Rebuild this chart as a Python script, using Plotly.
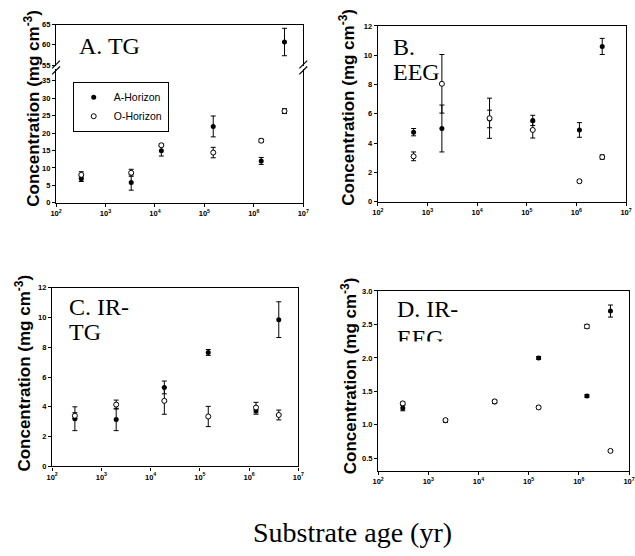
import plotly.graph_objects as go

W, H = 635, 556

# ---------------- data (ages in years, concentrations in mg cm-3) ----------------
age_A = [324, 3311, 13490, 151000, 1410000, 4170000]
tg_A_hor = [6.9, 5.8, 14.9, 21.9, 12.0, 60.7]
tg_A_err = [0.8, 2.2, 1.5, 3.0, 1.0, 3.4]
tg_O_hor = [8.0, 8.6, 16.5, 14.4, 17.8, 26.3]
tg_O_err = [0.9, 1.0, 0.4, 1.5, 0.5, 0.7]

age_B = [525, 1950, 17800, 132000, 1150000, 3310000]
eeg_A_hor = [4.75, 5.0, 5.65, 5.55, 4.9, 10.6]
eeg_A_err = [0.25, 1.6, 0.6, 0.35, 0.5, 0.55]
eeg_O_hor = [3.1, 8.05, 5.7, 4.9, 1.4, 3.05]
eeg_O_err = [0.3, 2.0, 1.37, 0.55, 0.1, 0.15]

age_C = [290, 2000, 19000, 148000, 1380000, 4000000]
irtg_A_hor = [3.2, 3.15, 5.3, 7.65, 3.75, 9.85]
irtg_A_err = [0.8, 0.75, 0.43, 0.2, 0.25, 1.2]
irtg_O_hor = [3.4, 4.15, 4.4, 3.35, 3.95, 3.45]
irtg_O_err = [0.2, 0.3, 0.9, 0.68, 0.35, 0.33]

age_D = [310, 2200, 21000, 158000, 1450000, 4270000]
ireeg_A_hor = [1.25, 1.06, 1.34, 2.0, 1.43, 2.7]
ireeg_A_err = [0.04, 0.02, 0.02, 0.02, 0.02, 0.09]
ireeg_O_hor = [1.32, 1.07, 1.35, 1.26, 2.47, 0.61]
ireeg_O_err = [0.02, 0.02, 0.02, 0.02, 0.03, 0.01]

x_tickvals = [100, 1000, 10000, 100000, 1000000, 10000000]
x_ticktext = ["10<sup>2</sup>", "10<sup>3</sup>", "10<sup>4</sup>", "10<sup>5</sup>",
              "10<sup>6</sup>", "10<sup>7</sup>"]

series_names = ["A-Horizon", "O-Horizon"]
panel_labels = [["A. TG"], ["B.", "EEG"], ["C. IR-", "TG"], ["D. IR-", "EEG"]]
y_title = "<b>Concentration (mg cm<sup>-3</sup>)</b>"
x_title = "Substrate age (yr)"

# ---------------- helpers ----------------
def xp(px):
    return px / W


def yp(py):
    return 1 - py / H


SANS = "Liberation Sans, Arial"
SERIF = "Liberation Serif, Times New Roman"

fig = go.Figure()


def add_pair(ages, a_vals, a_err, o_vals, o_err, xa, ya, legend=False):
    fig.add_trace(go.Scatter(
        x=ages, y=a_vals, mode="markers", name=series_names[0],
        marker=dict(symbol="circle", size=5, color="black"),
        error_y=dict(type="data", array=a_err, color="black", thickness=1, width=2.5),
        xaxis=xa, yaxis=ya, showlegend=legend))
    fig.add_trace(go.Scatter(
        x=ages, y=o_vals, mode="markers", name=series_names[1],
        marker=dict(symbol="circle", size=5, color="white", line=dict(color="black", width=1)),
        error_y=dict(type="data", array=o_err, color="black", thickness=1, width=2.5),
        xaxis=xa, yaxis=ya, showlegend=legend))


# Panel A: upper (break) and lower parts
add_pair(age_A, tg_A_hor, tg_A_err, tg_O_hor, tg_O_err, "x", "y")
add_pair(age_A, tg_A_hor, tg_A_err, tg_O_hor, tg_O_err, "x2", "y2", legend=True)
add_pair(age_B, eeg_A_hor, eeg_A_err, eeg_O_hor, eeg_O_err, "x3", "y3")
add_pair(age_C, irtg_A_hor, irtg_A_err, irtg_O_hor, irtg_O_err, "x4", "y4")
add_pair(age_D, ireeg_A_hor, ireeg_A_err, ireeg_O_hor, ireeg_O_err, "x5", "y5")

tickfont = dict(family=SANS, size=7.5, color="black", weight="bold")

def xaxis_cfg(dom, anchor, show_labels=True, side="bottom", mirror=True, ticks="outside"):
    return dict(type="log", range=[2, 7], domain=dom, anchor=anchor,
                tickvals=x_tickvals, ticktext=x_ticktext, showticklabels=show_labels,
                ticks=ticks, ticklen=3, tickwidth=1, tickcolor="black",
                showline=True, linecolor="black", linewidth=1.3, mirror=mirror, side=side,
                showgrid=False, zeroline=False, tickfont=tickfont)


def yaxis_cfg(dom, anchor, rng, tickvals=None, dtick=None, fmt=None):
    d = dict(range=rng, domain=dom, anchor=anchor,
             ticks="outside", ticklen=3, tickwidth=1, tickcolor="black",
             showline=True, linecolor="black", linewidth=1.3, mirror=True,
             showgrid=False, zeroline=False, tickfont=tickfont)
    if tickvals is not None:
        d["tickvals"] = tickvals
    if dtick is not None:
        d["dtick"] = dtick
        d["tick0"] = 0
    if fmt:
        d["tickformat"] = fmt
    return d


domA_x = [xp(51), xp(303)]
domB_x = [xp(379), xp(632)]
domC_x = [xp(47), xp(298)]
domD_x = [xp(379.3), 1.0]

fig.update_layout(
    width=W, height=H, margin=dict(l=0, r=0, t=0, b=0),
    paper_bgcolor="white", plot_bgcolor="white",
    xaxis=xaxis_cfg(domA_x, "y", show_labels=False, side="top", mirror=False, ticks=""),
    yaxis=yaxis_cfg([yp(63), yp(21)], "x", [54.76, 65], tickvals=[55, 60, 65]),
    xaxis2=xaxis_cfg(domA_x, "y2", mirror=False),
    yaxis2=yaxis_cfg([yp(202), yp(66)], "x2", [0, 38.4], tickvals=[0, 5, 10, 15, 20, 25, 30, 35]),
    xaxis3=xaxis_cfg(domB_x, "y3"),
    yaxis3=yaxis_cfg([yp(201), yp(22.3)], "x3", [0, 12], dtick=2),
    xaxis4=xaxis_cfg(domC_x, "y4"),
    yaxis4=yaxis_cfg([yp(470), yp(288.3)], "x4", [0, 12], dtick=2),
    xaxis5=xaxis_cfg(domD_x, "y5"),
    yaxis5=yaxis_cfg([yp(475), yp(291.7)], "x5", [0.305, 3.0], tickvals=[0.5, 1.0, 1.5, 2.0, 2.5, 3.0], fmt=".1f"),
    legend=dict(x=xp(68), y=yp(79), xanchor="left", yanchor="top",
                bordercolor="black", borderwidth=1, bgcolor="white",
                font=dict(family=SANS, size=10.5, color="black"),
                tracegroupgap=0, itemsizing="trace", itemwidth=30),
    showlegend=True,
)

# axis-break marks for panel A
for bx in (51, 303):
    for by in (61.5, 67.5):
        fig.add_shape(type="line", xref="paper", yref="paper",
                      x0=xp(bx - 4), y0=yp(by + 4), x1=xp(bx + 4), y1=yp(by - 4),
                      line=dict(color="black", width=1.2))

annotations = []

# y-axis titles
for cx, cy in [(27, 106), (348, 105), (17, 375), (349, 378)]:
    annotations.append(dict(text=y_title, x=xp(cx), y=yp(cy), xref="paper", yref="paper",
                            xanchor="center", yanchor="middle", textangle=-90, showarrow=False,
                            font=dict(family=SANS, size=17, color="black")))

# panel labels (left x, baseline of each line)
label_pos = [(73, [52]), (393, [53, 78]), (63, [317, 343]), (397, [319, 349])]
for lines, (lx, baselines) in zip(panel_labels, label_pos):
    for txt, bl in zip(lines, baselines):
        annotations.append(dict(text=txt, x=xp(lx - 1), y=yp(bl + 6), xref="paper", yref="paper",
                                xanchor="left", yanchor="bottom", showarrow=False,
                                font=dict(family=SERIF, size=24, color="black")))

# white cover that clips the lower part of the "EEG" label in panel D
annotations.append(dict(text=" ", x=xp(394), y=yp(342.5), xref="paper", yref="paper",
                        xanchor="left", yanchor="top", showarrow=False, width=60, height=14,
                        bgcolor="white", borderpad=0, font=dict(size=4)))

# common x title
annotations.append(dict(text=x_title, x=xp(353), y=yp(548 + 7), xref="paper", yref="paper",
                        xanchor="center", yanchor="bottom", showarrow=False,
                        font=dict(family=SERIF, size=28, color="black")))

fig.update_layout(annotations=annotations)

fig.write_html("out.html")
